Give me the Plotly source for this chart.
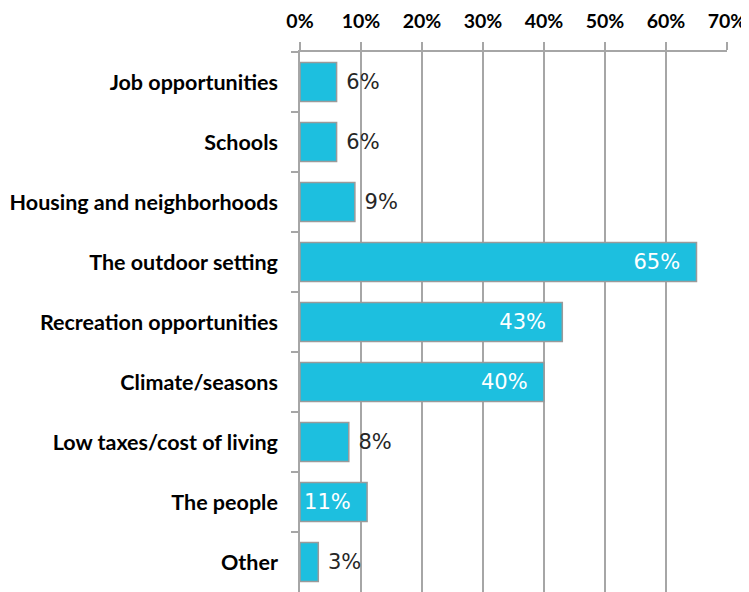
import plotly.graph_objects as go

categories = ["Job opportunities", "Schools", "Housing and neighborhoods",
              "The outdoor setting", "Recreation opportunities", "Climate/seasons",
              "Low taxes/cost of living", "The people", "Other"]
values = [6, 6, 9, 65, 43, 40, 8, 11, 3]
label_positions = ["outside", "outside", "outside", "inside", "inside", "inside",
                   "outside", "inside", "outside"]
tick_vals = [0, 10, 20, 30, 40, 50, 60, 70]
tick_text = ["0%", "10%", "20%", "30%", "40%", "50%", "60%", "70%"]

NB = "\u00a0"
text_colors = ["white" if p == "inside" else "#262626" for p in label_positions]
labels = [(f"{v}%" + NB * 2) if p == "inside" else (NB + f"{v}%")
          for v, p in zip(values, label_positions)]

fig = go.Figure()
fig.add_trace(go.Bar(
    y=categories, x=values, orientation="h",
    marker=dict(color="#1DBFDF", line=dict(color="#9A9A9A", width=1.5)),
    text=labels,
    textposition=label_positions,
    insidetextanchor="end",
    textfont=dict(family="DejaVu Sans, sans-serif", size=21, color=text_colors),
    cliponaxis=False,
))

# page body has an 8px default margin; compensate so the plot area matches
fig.update_layout(
    width=741, height=584,
    margin=dict(l=292, r=22, t=44, b=0),
    plot_bgcolor="white", paper_bgcolor="white",
    bargap=0.35,
    showlegend=False,
)
fig.update_xaxes(
    side="top", range=[0, 70], tickvals=tick_vals, ticktext=tick_text,
    showgrid=True, gridcolor="#A6A6A6", gridwidth=1.5,
    showline=True, linecolor="#A6A6A6", linewidth=1.5,
    ticks="outside", ticklen=8, tickcolor="#A6A6A6", tickwidth=1.5,
    tickfont=dict(family="Lato, Open Sans, sans-serif", size=19.5, color="black", weight="bold"),
    ticklabelstandoff=6,
    zeroline=False, automargin=False,
)
fig.update_yaxes(
    autorange="reversed", categoryorder="array", categoryarray=categories,
    showline=True, linecolor="#A6A6A6", linewidth=1.5,
    ticks="outside", ticklen=7, tickcolor="#A6A6A6", tickwidth=1.5,
    tickson="boundaries",
    tickfont=dict(family="Lato, Open Sans, sans-serif", size=21.5, color="black", weight="bold"),
    ticklabelstandoff=16, automargin=False,
)

fig.write_html("out.html")
